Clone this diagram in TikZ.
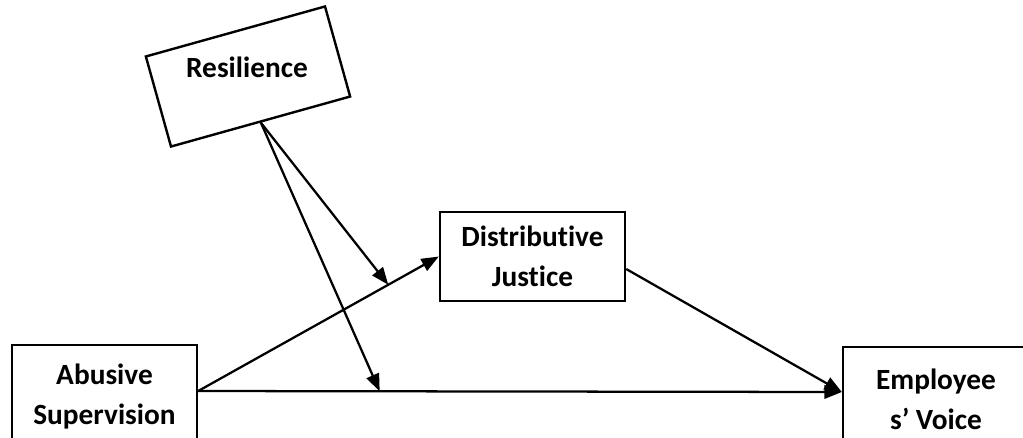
\documentclass[tikz,border=0pt]{standalone}
\usepackage{fontspec}
\setmainfont{Carlito}[Ligatures={NoCommon}]
\usetikzlibrary{arrows.meta,calc}
\tikzset{
  txt/.style={font=\fontsize{22}{30}\selectfont\bfseries},
  varbox/.style={draw, line width=1.8pt, inner sep=0pt, align=center, txt},
  conn/.style={line width=1.7pt, -{Triangle[length=13pt,width=10pt]}},
}
\begin{document}
\begin{tikzpicture}[x=0.75pt,y=-0.75pt]
\clip (0,0) rectangle (1023,437);
\fill[white] (0,0) rectangle (1023,437);
% nodes
\node[varbox, minimum width=185*0.75pt, minimum height=104*0.75pt] (abuse) at (104.5,397) {Abusive\\Supervision};
\node[varbox, minimum width=186*0.75pt, minimum height=104*0.75pt] (emp) at (936,399) {Employee\\s’ Voice};
\node[varbox, minimum width=185*0.75pt, minimum height=89*0.75pt] (dist) at (532.5,256.5) {Distributive\\Justice};
\node[draw, line width=1.8pt, inner sep=0pt, minimum width=186*0.75pt, minimum height=93.5*0.75pt, rotate=15.6] (res) at (248,76.5) {};
\node[txt, inner sep=0pt] (reslabel) at (247,67) {Resilience};
% connection points
\coordinate (as) at ($(abuse.east)+(0,-6)$);
\coordinate (ev) at ($(emp.west)+(0,-7)$);
\coordinate (dj) at ($(dist.east)+(0,12.5)$);
% connectors
\draw[conn] (as) -- (dist.west);
\draw[conn] (as) -- (ev);
\draw[conn] (dj) -- (ev);
\coordinate (m1) at ($(as)!0.79!(dist.west)$);
\coordinate (m2) at ($(as)!0.282!(ev)$);
\draw[conn] (res.south) -- (m1);
\draw[conn] (res.south) -- (m2);
\end{tikzpicture}
\end{document}
